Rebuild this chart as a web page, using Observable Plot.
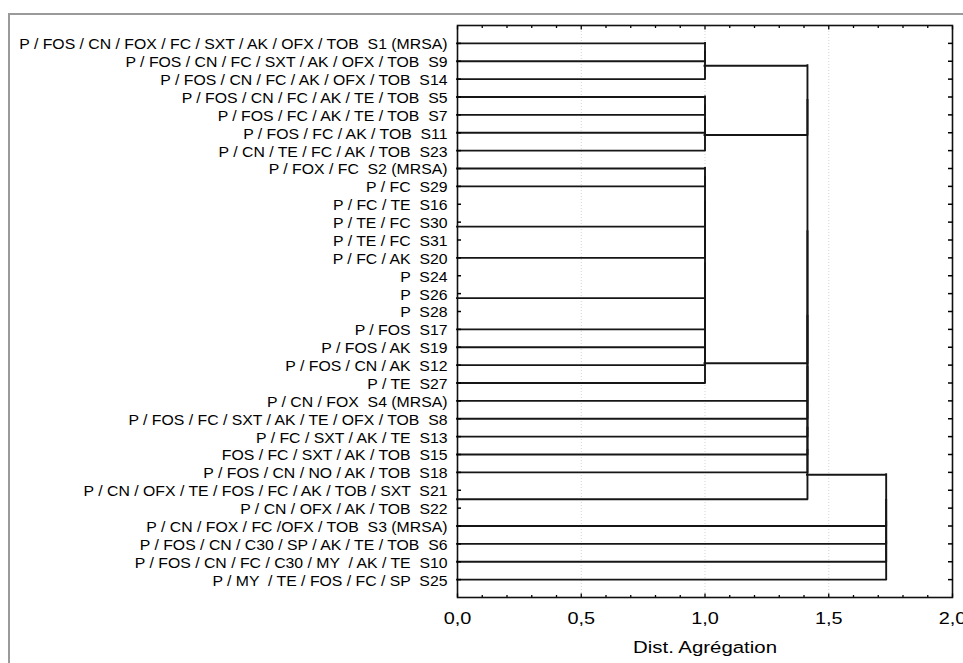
<!DOCTYPE html>
<html>
<head>
<meta charset="utf-8">
<script src="https://cdn.jsdelivr.net/npm/d3@7"></script>
<script src="https://cdn.jsdelivr.net/npm/@observablehq/plot@0.6"></script>
<style>
  html, body { margin: 0; padding: 0; background: white; }
  #wrap { position: relative; width: 963px; height: 663px; overflow: hidden; }
  #border { position: absolute; left: 8px; top: 13px; width: 960px; height: 660px;
            border-top: 2px solid #9a9a9a; border-left: 2px solid #9a9a9a; pointer-events: none; }
  svg text { white-space: pre; }
</style>
</head>
<body>
<div id="wrap"><div id="chart"></div><div id="border"></div></div>
<script>
// Leaf labels, top to bottom
const labels = [
  "P / FOS / CN / FOX / FC / SXT / AK / OFX / TOB  S1 (MRSA)",
  "P / FOS / CN / FC / SXT / AK / OFX / TOB  S9",
  "P / FOS / CN / FC / AK / OFX / TOB  S14",
  "P / FOS / CN / FC / AK / TE / TOB  S5",
  "P / FOS / FC / AK / TE / TOB  S7",
  "P / FOS / FC / AK / TOB  S11",
  "P / CN / TE / FC / AK / TOB  S23",
  "P / FOX / FC  S2 (MRSA)",
  "P / FC  S29",
  "P / FC / TE  S16",
  "P / TE / FC  S30",
  "P / TE / FC  S31",
  "P / FC / AK  S20",
  "P  S24",
  "P  S26",
  "P  S28",
  "P / FOS  S17",
  "P / FOS / AK  S19",
  "P / FOS / CN / AK  S12",
  "P / TE  S27",
  "P / CN / FOX  S4 (MRSA)",
  "P / FOS / FC / SXT / AK / TE / OFX / TOB  S8",
  "P / FC / SXT / AK / TE  S13",
  "FOS / FC / SXT / AK / TOB  S15",
  "P / FOS / CN / NO / AK / TOB  S18",
  "P / CN / OFX / TE / FOS / FC / AK / TOB / SXT  S21",
  "P / CN / OFX / AK / TOB  S22",
  "P / CN / FOX / FC /OFX / TOB  S3 (MRSA)",
  "P / FOS / CN / C30 / SP / AK / TE / TOB  S6",
  "P / FOS / CN / FC / C30 / MY  / AK / TE  S10",
  "P / MY  / TE / FOS / FC / SP  S25"
];

// Merge list: [nodeA, nodeB, linkage distance]; nodes 0..30 are leaves, 31+k is the k-th merge
const merges = [
  [9, 10, 0], [31, 11, 0], [13, 14, 0], [33, 15, 0], [25, 26, 0],
  [0, 1, 1.0], [36, 2, 1.0],
  [3, 4, 1.0], [38, 5, 1.0], [39, 6, 1.0],
  [7, 8, 1.0], [41, 32, 1.0], [42, 12, 1.0], [43, 34, 1.0], [44, 16, 1.0],
  [45, 17, 1.0], [46, 18, 1.0], [47, 19, 1.0],
  [37, 40, 1.414], [49, 48, 1.414], [50, 20, 1.414], [51, 21, 1.414],
  [52, 22, 1.414], [53, 23, 1.414], [54, 24, 1.414], [55, 35, 1.414],
  [56, 27, 1.732], [57, 28, 1.732], [58, 29, 1.732], [59, 30, 1.732]
];

const xTickValues = [0, 0.5, 1, 1.5, 2];
const xMinorTicks = [0.1, 0.2, 0.3, 0.4, 0.6, 0.7, 0.8, 0.9, 1.1, 1.2, 1.3, 1.4, 1.6, 1.7, 1.8, 1.9];
const xTitle = "Dist. Agrégation";

// Build segments (STATISTICA-style: joined cluster sits at mid-point of its two parts)
const n = labels.length;
const pos = d3.range(n), hgt = d3.range(n).map(() => 0);
const hSegs = [], vSegs = [];
for (const [a, b, h] of merges) {
  if (h > hgt[a]) hSegs.push({y: pos[a], x1: hgt[a], x2: h});
  if (h > hgt[b]) hSegs.push({y: pos[b], x1: hgt[b], x2: h});
  if (h > 0) vSegs.push({x: h, y1: pos[a], y2: pos[b]});
  pos.push((pos[a] + pos[b]) / 2);
  hgt.push(h);
}
const rows = d3.range(n);
const fmt = d => d.toFixed(1).replace(".", ",");
const lineStyle = {stroke: "#161616", strokeWidth: 1.9, strokeLinecap: "square"};

const chart = Plot.plot({
  width: 963,
  height: 663,
  marginLeft: 457,
  marginRight: 11,
  marginTop: 25,
  marginBottom: 66,
  style: {fontFamily: "'Liberation Sans', Arial, sans-serif", background: "white", color: "black"},
  x: {domain: [0, 2], label: null},
  y: {domain: [-1, n], reverse: true, label: null},
  marks: [
    Plot.ruleX([0.5, 1, 1.5], {stroke: "#d4d4d4", strokeDasharray: "1,2"}),
    Plot.ruleY(hSegs, {y: "y", x1: "x1", x2: "x2", ...lineStyle}),
    Plot.ruleX(vSegs, {x: "x", y1: "y1", y2: "y2", ...lineStyle}),
    Plot.frame({stroke: "#111", strokeWidth: 1.6}),
    Plot.axisY(rows, {anchor: "left", tickSize: 0, tickPadding: 10, tickFormat: i => labels[i], fontSize: 14, dy: 1.5, label: null}),
    Plot.axisY(rows, {anchor: "left", tickSize: 4, dx: 4, tickFormat: () => "", label: null, strokeWidth: 1.5}),
    Plot.axisY(rows, {anchor: "right", tickSize: 5, dx: -5, tickFormat: () => "", label: null, strokeWidth: 1.5}),
    Plot.axisX(xMinorTicks, {anchor: "top", tickSize: 2, dy: 2, tickFormat: () => "", label: null, strokeWidth: 1.3}),
    Plot.axisX(xTickValues, {anchor: "top", tickSize: 3.5, dy: 3.5, tickFormat: () => "", label: null, strokeWidth: 1.3}),
    Plot.axisX(xMinorTicks, {anchor: "bottom", tickSize: 2, dy: -2, tickFormat: () => "", label: null, strokeWidth: 1.3}),
    Plot.axisX(xTickValues, {anchor: "bottom", tickSize: 3.5, dy: -3.5, tickFormat: () => "", label: null, strokeWidth: 1.3}),
    Plot.axisX(xTickValues, {anchor: "bottom", tickSize: 0, tickPadding: 14, tickFormat: fmt, fontSize: 17, label: null}),
    Plot.text([xTitle], {frameAnchor: "bottom", dy: 50, lineAnchor: "middle", fontSize: 17, fill: "black"})
  ]
});
document.getElementById("chart").appendChild(chart);

// Horizontal stretch of the text, as in the reference rendering (scale about each text's anchor)
function stretch(selector, s) {
  chart.querySelectorAll(selector).forEach(t => {
    if (!t.textContent) return;
    const tr = t.getAttribute("transform") || "";
    t.setAttribute("transform", `${tr} scale(${s},1)`);
  });
}
stretch('g[aria-label="y-axis tick label"] text', 1.13);
stretch('g[aria-label="x-axis tick label"] text', 1.17);
stretch('g[aria-label="text"] text', 1.2);
</script>
</body>
</html>
